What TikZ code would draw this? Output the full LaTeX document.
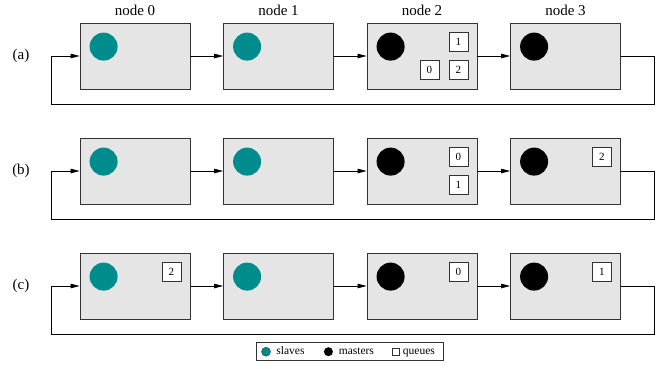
\documentclass[tikz,border=0pt]{standalone}
\usepackage{fontspec}
\setmainfont{Liberation Serif}
\usepackage{tikz}
\usetikzlibrary{shapes, arrows.meta, positioning}
\definecolor{slavecol}{RGB}{0,140,140}
\tikzstyle{block} = [draw=black!80, line width=0.8pt, fill=black!10, rectangle, minimum width=110pt, minimum height=66pt]
\tikzstyle{line} = [draw, line width=0.7pt, -{Triangle[length=9pt, width=4.5pt]}]
\tikzstyle{slave} = [circle, fill=slavecol, minimum size=28pt, inner sep=0pt]
\tikzstyle{master} = [circle, fill=black, minimum size=28pt, inner sep=0pt]
\tikzstyle{queue} = [draw=black!80, line width=0.7pt, fill=white, rectangle, minimum size=19pt, inner sep=0pt, font=\fontsize{11}{13}\selectfont]
\tikzstyle{title} = [font=\fontsize{15}{18}\selectfont]
\tikzstyle{keytext} = [inner sep=0pt, text height=8pt, text depth=2.5pt, font=\fontsize{11.5}{14}\selectfont]

\begin{document}
\begin{tikzpicture}[x=1pt, y=-1pt, node distance=143.5pt]
		\useasboundingbox (0,0) rectangle (660,368);
		% row (a)
		\node[block] (a0) at (135,56) {};
		\node[block, right of = a0] (a1) {};
		\node[block, right of = a1] (a2) {};
		\node[block, right of = a2] (a3) {};
		\node[title, above of = a0, node distance=46pt] (n0) {node 0};
		\node[title, above of = a1, node distance=46pt] (n1) {node 1};
		\node[title, above of = a2, node distance=46pt] (n2) {node 2};
		\node[title, above of = a3, node distance=46pt] (n3) {node 3};
		\node[title, left of = a0, node distance=114pt] (la) {(a)};
		\node[slave] (sa0) at ([xshift=24pt, yshift=-24pt]a0.north west) {};
		\node[slave] (sa1) at ([xshift=24pt, yshift=-24pt]a1.north west) {};
		\node[master] (ma2) at ([xshift=24pt, yshift=-24pt]a2.north west) {};
		\node[master] (ma3) at ([xshift=24pt, yshift=-24pt]a3.north west) {};
		\node[queue] (qa1) at ([xshift=-19pt, yshift=-19.5pt]a2.north east) {1};
		\node[queue] (qa2) at ([xshift=-19pt, yshift=-47.5pt]a2.north east) {2};
		\node[queue] (qa0) at ([xshift=-48pt, yshift=-47.5pt]a2.north east) {0};
		\draw[line] (a0) -- (a1);
		\draw[line] (a1) -- (a2);
		\draw[line] (a2) -- (a3);
		\draw[line] (a3.east) -| ([xshift=33pt, yshift=-15pt]a3.south east) -| ([xshift=-28pt]a0.west) -- (a0.west);
		% row (b)
		\node[block] (b0) at (135,171) {};
		\node[block, right of = b0] (b1) {};
		\node[block, right of = b1] (b2) {};
		\node[block, right of = b2] (b3) {};
		\node[title, left of = b0, node distance=114pt] (lb) {(b)};
		\node[slave] (sb0) at ([xshift=24pt, yshift=-24pt]b0.north west) {};
		\node[slave] (sb1) at ([xshift=24pt, yshift=-24pt]b1.north west) {};
		\node[master] (mb2) at ([xshift=24pt, yshift=-24pt]b2.north west) {};
		\node[master] (mb3) at ([xshift=24pt, yshift=-24pt]b3.north west) {};
		\node[queue] (qb0) at ([xshift=-19pt, yshift=-19.5pt]b2.north east) {0};
		\node[queue] (qb1) at ([xshift=-19pt, yshift=-47.5pt]b2.north east) {1};
		\node[queue] (qb2) at ([xshift=-19pt, yshift=-19.5pt]b3.north east) {2};
		\draw[line] (b0) -- (b1);
		\draw[line] (b1) -- (b2);
		\draw[line] (b2) -- (b3);
		\draw[line] (b3.east) -| ([xshift=33pt, yshift=-15pt]b3.south east) -| ([xshift=-28pt]b0.west) -- (b0.west);
		% row (c)
		\node[block] (c0) at (135,286) {};
		\node[block, right of = c0] (c1) {};
		\node[block, right of = c1] (c2) {};
		\node[block, right of = c2] (c3) {};
		\node[title, left of = c0, node distance=114pt] (lc) {(c)};
		\node[slave] (sc0) at ([xshift=24pt, yshift=-24pt]c0.north west) {};
		\node[slave] (sc1) at ([xshift=24pt, yshift=-24pt]c1.north west) {};
		\node[master] (mc2) at ([xshift=24pt, yshift=-24pt]c2.north west) {};
		\node[master] (mc3) at ([xshift=24pt, yshift=-24pt]c3.north west) {};
		\node[queue] (qc2) at ([xshift=-19pt, yshift=-19.5pt]c0.north east) {2};
		\node[queue] (qc0) at ([xshift=-19pt, yshift=-19.5pt]c2.north east) {0};
		\node[queue] (qc1) at ([xshift=-19pt, yshift=-19.5pt]c3.north east) {1};
		\draw[line] (c0) -- (c1);
		\draw[line] (c1) -- (c2);
		\draw[line] (c2) -- (c3);
		\draw[line] (c3.east) -| ([xshift=33pt, yshift=-15pt]c3.south east) -| ([xshift=-28pt]c0.west) -- (c0.west);
		% key
		\node[draw=black!80, line width=0.7pt, minimum width=187pt, minimum height=18pt] (key) at (350,351.3) {};
		\node[slave, draw=black!80, minimum size=9pt] (ks) at (266,351.7) {};
		\node[keytext, right=5.5pt of ks] (kst) {slaves};
		\node[master, minimum size=9pt, right=19pt of kst] (km) {};
		\node[keytext, right=5.5pt of km] (kmt) {masters};
		\node[rectangle, draw=black!80, line width=0.6pt, minimum size=7pt, inner sep=0pt, right=17.5pt of kmt] (kq) {};
		\node[keytext, right=3.5pt of kq] (kqt) {queues};
	\end{tikzpicture}
\end{document}
